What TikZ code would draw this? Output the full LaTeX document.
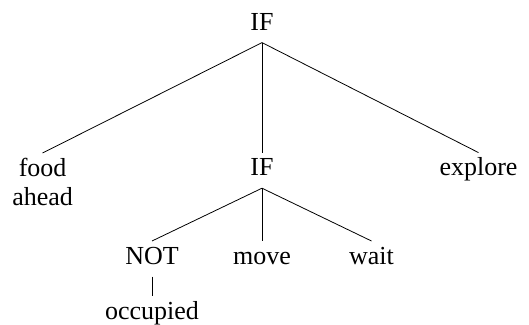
\documentclass[tikz,border=0pt]{standalone}
\usepackage{fontspec}
\setmainfont{Liberation Serif}
\begin{document}
\begin{tikzpicture}[x=1pt,y=-1pt,
  treefont/.style={font=\fontsize{26}{29.5}\selectfont},
  lbl/.style={treefont, inner sep=0pt, outer sep=5pt, text height=18pt, text depth=7.6pt, anchor=base},
  branch/.style={line width=0.8pt}]
  \useasboundingbox (0,0) rectangle (529,324);
  % top level
  \node[lbl] (root) at (262,30) {IF};
  \node[treefont, inner sep=0pt, outer sep=0pt, anchor=north, align=center]
    (food) at (42.6,153) {\rule{0pt}{23pt}food\\ahead};
  \node[lbl] (inner) at (262,175.6) {IF};
  \node[lbl] (explore) at (478.5,175.6) {explore};
  % children of the inner IF
  \node[lbl] (not) at (152,264) {NOT};
  \node[lbl] (move) at (262,264) {move};
  \node[lbl] (wait) at (371.5,264) {wait};
  \node[lbl] (occ) at (152,319) {occupied};
  % branches
  \draw[branch] (root.south) -- (food.north);
  \draw[branch] (root.south) -- (inner.north);
  \draw[branch] (root.south) -- (explore.north);
  \draw[branch] (inner.south) -- (not.north);
  \draw[branch] (inner.south) -- (move.north);
  \draw[branch] (inner.south) -- (wait.north);
  \draw[branch] (not.south) -- (occ.north);
\end{tikzpicture}
\end{document}
